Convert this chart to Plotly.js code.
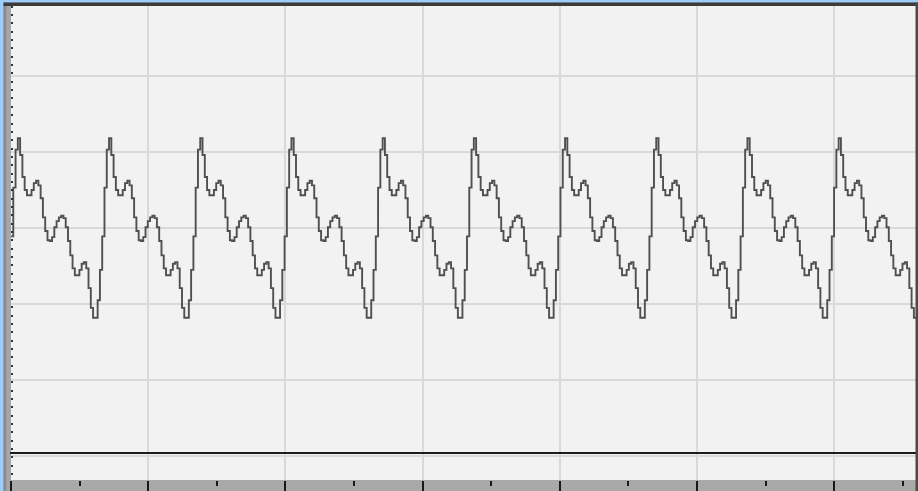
<!DOCTYPE html>
<html>
<head>
<meta charset="utf-8">
<script src="https://cdn.plot.ly/plotly-3.0.1.min.js"></script>
<style>
  html, body { margin: 0; padding: 0; background: #a9a9a9; overflow: hidden; }
  #scope { width: 918px; height: 491px; }
</style>
</head>
<body>
<div id="scope"></div>
<script>
// Captured trace, one value per sample, in volts (1 V per vertical division).
const sampleVolts = [
  -0.11, 0.53, 1.03,
  1.18, 0.96, 0.67, 0.50, 0.43, 0.43, 0.50, 0.59, 0.62, 0.56, 0.39, 0.14, -0.04, -0.16, -0.17, -0.12, 0.01, 0.09, 0.14, 0.16, 0.13, 0.01, -0.17, -0.36, -0.53, -0.62, -0.62, -0.55, -0.47, -0.45, -0.53, -0.79, -1.05, -1.18, -1.18, -0.95, -0.55, -0.11, 0.53, 1.03,
  1.18, 0.96, 0.67, 0.50, 0.43, 0.43, 0.50, 0.59, 0.62, 0.56, 0.39, 0.14, -0.04, -0.16, -0.17, -0.12, 0.01, 0.09, 0.14, 0.16, 0.13, 0.01, -0.17, -0.36, -0.53, -0.62, -0.62, -0.55, -0.47, -0.45, -0.53, -0.79, -1.05, -1.18, -1.18, -0.95, -0.55, -0.11, 0.53, 1.03,
  1.18, 0.96, 0.67, 0.50, 0.43, 0.43, 0.50, 0.59, 0.62, 0.56, 0.39, 0.14, -0.04, -0.16, -0.17, -0.12, 0.01, 0.09, 0.14, 0.16, 0.13, 0.01, -0.17, -0.36, -0.53, -0.62, -0.62, -0.55, -0.47, -0.45, -0.53, -0.79, -1.05, -1.18, -1.18, -0.95, -0.55, -0.11, 0.53, 1.03,
  1.18, 0.96, 0.67, 0.50, 0.43, 0.43, 0.50, 0.59, 0.62, 0.56, 0.39, 0.14, -0.04, -0.16, -0.17, -0.12, 0.01, 0.09, 0.14, 0.16, 0.13, 0.01, -0.17, -0.36, -0.53, -0.62, -0.62, -0.55, -0.47, -0.45, -0.53, -0.79, -1.05, -1.18, -1.18, -0.95, -0.55, -0.11, 0.53, 1.03,
  1.18, 0.96, 0.67, 0.50, 0.43, 0.43, 0.50, 0.59, 0.62, 0.56, 0.39, 0.14, -0.04, -0.16, -0.17, -0.12, 0.01, 0.09, 0.14, 0.16, 0.13, 0.01, -0.17, -0.36, -0.53, -0.62, -0.62, -0.55, -0.47, -0.45, -0.53, -0.79, -1.05, -1.18, -1.18, -0.95, -0.55, -0.11, 0.53, 1.03,
  1.18, 0.96, 0.67, 0.50, 0.43, 0.43, 0.50, 0.59, 0.62, 0.56, 0.39, 0.14, -0.04, -0.16, -0.17, -0.12, 0.01, 0.09, 0.14, 0.16, 0.13, 0.01, -0.17, -0.36, -0.53, -0.62, -0.62, -0.55, -0.47, -0.45, -0.53, -0.79, -1.05, -1.18, -1.18, -0.95, -0.55, -0.11, 0.53, 1.03,
  1.18, 0.96, 0.67, 0.50, 0.43, 0.43, 0.50, 0.59, 0.62, 0.56, 0.39, 0.14, -0.04, -0.16, -0.17, -0.12, 0.01, 0.09, 0.14, 0.16, 0.13, 0.01, -0.17, -0.36, -0.53, -0.62, -0.62, -0.55, -0.47, -0.45, -0.53, -0.79, -1.05, -1.18, -1.18, -0.95, -0.55, -0.11, 0.53, 1.03,
  1.18, 0.96, 0.67, 0.50, 0.43, 0.43, 0.50, 0.59, 0.62, 0.56, 0.39, 0.14, -0.04, -0.16, -0.17, -0.12, 0.01, 0.09, 0.14, 0.16, 0.13, 0.01, -0.17, -0.36, -0.53, -0.62, -0.62, -0.55, -0.47, -0.45, -0.53, -0.79, -1.05, -1.18, -1.18, -0.95, -0.55, -0.11, 0.53, 1.03,
  1.18, 0.96, 0.67, 0.50, 0.43, 0.43, 0.50, 0.59, 0.62, 0.56, 0.39, 0.14, -0.04, -0.16, -0.17, -0.12, 0.01, 0.09, 0.14, 0.16, 0.13, 0.01, -0.17, -0.36, -0.53, -0.62, -0.62, -0.55, -0.47, -0.45, -0.53, -0.79, -1.05, -1.18, -1.18, -0.95, -0.55, -0.11, 0.53, 1.03,
  1.18, 0.96, 0.67, 0.50, 0.43, 0.43, 0.50, 0.59, 0.62, 0.56, 0.39, 0.14, -0.04, -0.16, -0.17, -0.12, 0.01, 0.09, 0.14, 0.16, 0.13, 0.01, -0.17, -0.36, -0.53, -0.62, -0.62, -0.55, -0.47, -0.45, -0.53, -0.79, -1.05, -1.18, -1.18
];

// Display settings
const SAMPLES_PER_DIV = 60.175;   // horizontal division, in samples
const VOLTS_PER_DIV = 1;          // vertical division, in volts
const VISIBLE_SAMPLES = 396.93;   // width of the screen, in samples
const SCREEN_TOP = 2.930;         // top edge of the screen, in volts
const SCREEN_BOTTOM = -3.311;     // bottom edge of the screen, in volts
const DOT_START = 2.799;          // first dot of the left-hand scale, in volts
const DOT_STEP = 0.1097;          // spacing of the left-hand scale dots, in volts

const sampleIndex = sampleVolts.map((_, i) => i);

const trace = {
  type: 'scatter',
  mode: 'lines',
  x: sampleIndex,
  y: sampleVolts,
  line: { shape: 'hv', color: '#505050', width: 1.9 },
  hoverinfo: 'skip'
};

// Pixel helpers for the frame decorations (paper coordinates)
const W = 918, H = 491, L = 11, R = 2, T = 5, B = 11;
const PW = W - L - R, PH = H - T - B;
const px = p => (p - L) / PW;
const py = p => (H - B - p) / PH;

const shapes = [
  // light blue window edge on the left and top
  { type: 'rect', xref: 'paper', yref: 'paper', x0: px(0), x1: px(3.5), y0: py(H), y1: py(0), fillcolor: '#9fcdfb', line: { width: 0 } },
  { type: 'rect', xref: 'paper', yref: 'paper', x0: px(0), x1: px(W), y0: py(2.5), y1: py(0), fillcolor: '#9fcdfb', line: { width: 0 } },
  // grey side strip
  { type: 'rect', xref: 'paper', yref: 'paper', x0: px(3.5), x1: px(6.5), y0: py(H), y1: py(2.5), fillcolor: '#8a8a8a', line: { width: 0 } },
  { type: 'rect', xref: 'paper', yref: 'paper', x0: px(6.5), x1: px(10), y0: py(H), y1: py(2.5), fillcolor: '#a6a6a6', line: { width: 0 } },
  // dark top border
  { type: 'rect', xref: 'paper', yref: 'paper', x0: px(3.5), x1: px(W), y0: py(6), y1: py(2.5), fillcolor: '#3c3c3c', line: { width: 0 } },
  // dark right border
  { type: 'rect', xref: 'paper', yref: 'paper', x0: px(915.5), x1: px(W), y0: py(H), y1: py(2.5), fillcolor: '#4a4a4a', line: { width: 0 } },
  // baseline separating the lower band
  { type: 'line', xref: 'paper', yref: 'paper', x0: px(10), x1: px(916), y0: py(453), y1: py(453), line: { color: '#1c1c1c', width: 2.2 } }
];

const layout = {
  width: W,
  height: H,
  margin: { l: L, r: R, t: T, b: B, pad: 0 },
  paper_bgcolor: '#a9a9a9',
  plot_bgcolor: '#f2f2f2',
  showlegend: false,
  xaxis: {
    range: [0, VISIBLE_SAMPLES],
    tick0: 0,
    dtick: SAMPLES_PER_DIV,
    showgrid: true,
    gridcolor: '#d9d9d9',
    gridwidth: 2,
    zeroline: false,
    showline: false,
    showticklabels: false,
    ticks: 'outside',
    ticklen: 11,
    tickwidth: 2,
    tickcolor: '#1a1a1a',
    minor: {
      tick0: 0,
      dtick: SAMPLES_PER_DIV / 2,
      ticks: 'outside',
      ticklen: 5,
      tickwidth: 2,
      tickcolor: '#1a1a1a',
      showgrid: false
    },
    fixedrange: true
  },
  yaxis: {
    range: [SCREEN_BOTTOM, SCREEN_TOP],
    tick0: 0,
    dtick: VOLTS_PER_DIV,
    showgrid: true,
    gridcolor: '#d9d9d9',
    gridwidth: 2,
    zeroline: false,
    showline: false,
    showticklabels: false,
    ticks: '',
    minor: {
      tick0: DOT_START,
      dtick: DOT_STEP,
      ticks: 'inside',
      ticklen: 2,
      tickwidth: 2,
      tickcolor: '#333333',
      showgrid: false
    },
    fixedrange: true
  },
  shapes: shapes
};

Plotly.newPlot('scope', [trace], layout, { staticPlot: true, displayModeBar: false });
</script>
</body>
</html>
